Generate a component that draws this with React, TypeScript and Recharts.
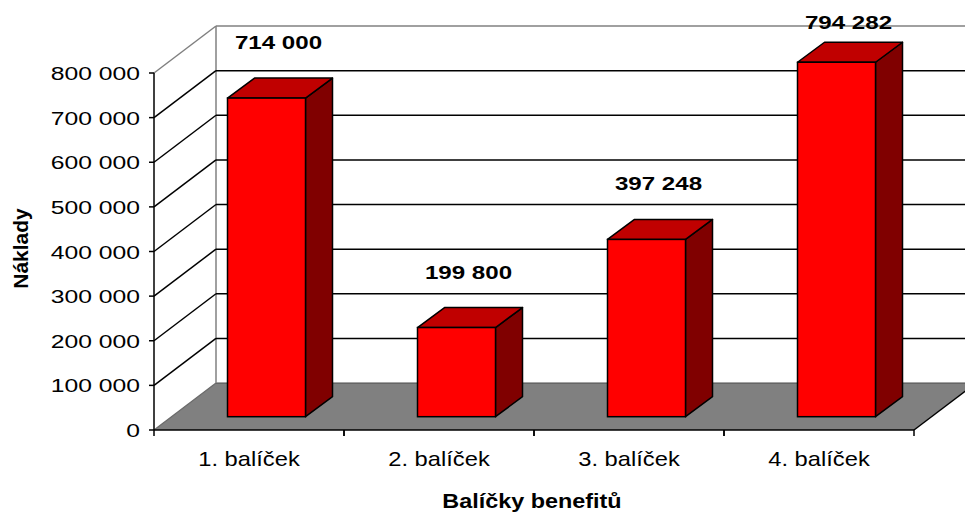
import { BarChart, Bar, XAxis, YAxis, CartesianGrid } from "recharts";

// kategorie a hodnoty
const CATEGORIES = ["1. balíček", "2. balíček", "3. balíček", "4. balíček"];
const COSTS = [714000, 199800, 397248, 794282];
const Y_TICKS = [0, 100000, 200000, 300000, 400000, 500000, 600000, 700000, 800000];

const data = CATEGORIES.map((name, i) => ({ name, value: COSTS[i] }));

// layout
const W = 965;
const H = 516;
const Y_AXIS_W = 154;
const X_AXIS_H = 86;
const MARGIN = { top: 73, right: 51, bottom: 0, left: 0 };
const PLOT_LEFT = Y_AXIS_W;
const PLOT_RIGHT = W - MARGIN.right;
const PLOT_TOP = MARGIN.top;
const PLOT_BOTTOM = H - X_AXIS_H;
const HALF_BAND = (PLOT_RIGHT - PLOT_LEFT) / CATEGORIES.length / 2;

// 3D hloubka
const DEPTH_X = 62;
const DEPTH_Y = 47;
const FRONT_X = 17.5;
const FRONT_Y = 13.3;
const BAR_DX = 27;
const BAR_DY = 20;

const FONT = '"Liberation Sans", Arial, sans-serif';

const fmt = (v: number) => String(v).replace(/\B(?=(\d{3})+(?!\d))/g, " ");

const pts = (p: number[][]) => p.map((q) => q.join(",")).join(" ");

// mřížka na zadní a boční stěně + podlaha
const WallLine = (props: any) => {
  const { x1, y1, x2, key } = props;
  const bx1 = x1 + DEPTH_X;
  const bx2 = x2 + DEPTH_X;
  const by = y1 - DEPTH_Y;
  if (Math.abs(y1 - PLOT_BOTTOM) < 1) {
    return (
      <g key={key}>
        <polygon
          points={pts([[x1, y1], [x2, y1], [bx2, by], [bx1, by]])}
          fill="#808080"
          stroke="none"
        />
        <line x1={bx1} y1={by} x2={bx2} y2={by} stroke="#4a4a4a" strokeWidth={1.2} />
        <line x1={x1} y1={y1} x2={bx1} y2={by} stroke="#6a6a6a" strokeWidth={1.2} />
        <line x1={x2} y1={y1} x2={bx2} y2={by} stroke="#000" strokeWidth={1.5} />
        <line
          x1={bx1}
          y1={by}
          x2={bx1}
          y2={PLOT_TOP - DEPTH_Y}
          stroke="#808080"
          strokeWidth={1.5}
        />
      </g>
    );
  }
  const isTop = Math.abs(y1 - PLOT_TOP) < 1;
  const color = isTop ? "#808080" : "#000";
  return (
    <g key={key}>
      <line x1={x1} y1={y1} x2={bx1} y2={by} stroke={color} strokeWidth={1.5} />
      <line x1={bx1} y1={by} x2={bx2} y2={by} stroke={color} strokeWidth={1.5} />
    </g>
  );
};

const Bar3D = (props: any) => {
  const { x, y, width, height, payload } = props;
  const fx = x + FRONT_X;
  const fy = y - FRONT_Y;
  const r = fx + width;
  const b = fy + height;
  const top = [[fx, fy], [fx + BAR_DX, fy - BAR_DY], [r + BAR_DX, fy - BAR_DY], [r, fy]];
  const side = [[r, fy], [r + BAR_DX, fy - BAR_DY], [r + BAR_DX, b - BAR_DY], [r, b]];
  const labelY = Math.max(fy - BAR_DY - 36, 22);
  const labelX = fx + width / 2 + 12;
  return (
    <g>
      <polygon points={pts(side)} fill="#800000" stroke="#000" strokeWidth={1.5} strokeLinejoin="round" />
      <polygon points={pts(top)} fill="#C00000" stroke="#000" strokeWidth={1.5} strokeLinejoin="round" />
      <rect x={fx} y={fy} width={width} height={height} fill="#FF0000" stroke="#000" strokeWidth={1.5} />
      <text
        transform={`translate(${labelX},${labelY + 7}) scale(1.27,1)`}
        textAnchor="middle"
        fontFamily={FONT}
        fontWeight="bold"
        fontSize={19}
        fill="#000"
      >
        {fmt(payload.value)}
      </text>
    </g>
  );
};

const YTick = ({ x, y, payload }: any) => (
  <text
    transform={`translate(${x},${y + 7}) scale(1.3,1)`}
    textAnchor="end"
    fontFamily={FONT}
    fontSize={19}
    fill="#000"
  >
    {fmt(payload.value)}
  </text>
);

const XTick = ({ x, payload }: any) => (
  <g>
    <line x1={x - HALF_BAND} y1={PLOT_BOTTOM} x2={x - HALF_BAND} y2={PLOT_BOTTOM + 6} stroke="#000" strokeWidth={1.5} />
    <line x1={x + HALF_BAND} y1={PLOT_BOTTOM} x2={x + HALF_BAND} y2={PLOT_BOTTOM + 6} stroke="#000" strokeWidth={1.5} />
    <text
      transform={`translate(${x},${PLOT_BOTTOM + 36}) scale(1.13,1)`}
      textAnchor="middle"
      fontFamily={FONT}
      fontSize={21}
      fill="#000"
    >
      {payload.value}
    </text>
  </g>
);

const XTitle = () => (
  <text
    transform={`translate(${(PLOT_LEFT + PLOT_RIGHT) / 2 - 2},${H - 8}) scale(1.17,1)`}
    textAnchor="middle"
    fontFamily={FONT}
    fontWeight="bold"
    fontSize={20}
    fill="#000"
  >
    Balíčky benefitů
  </text>
);

const YTitle = () => (
  <text
    transform={`translate(28,${(PLOT_TOP + PLOT_BOTTOM) / 2 - 3}) rotate(-90)`}
    textAnchor="middle"
    fontFamily={FONT}
    fontWeight="bold"
    fontSize={21}
    fill="#000"
  >
    Náklady
  </text>
);

export default function App() {
  return (
    <div style={{ position: "absolute", left: 0, top: 0, width: W, height: H, background: "#fff" }}>
      <BarChart width={W} height={H} data={data} margin={MARGIN} barSize={78}>
        <CartesianGrid vertical={false} horizontal={WallLine} />
        <XAxis
          dataKey="name"
          height={X_AXIS_H}
          axisLine={{ stroke: "#000", strokeWidth: 1.5 }}
          tickLine={false}
          tick={<XTick />}
          interval={0}
          label={<XTitle />}
        />
        <YAxis
          width={Y_AXIS_W}
          domain={[0, 800000]}
          ticks={Y_TICKS}
          interval={0}
          axisLine={{ stroke: "#000", strokeWidth: 1.5 }}
          tickLine={{ stroke: "#000", strokeWidth: 1.5 }}
          tickSize={5}
          tickMargin={9}
          tick={<YTick />}
          label={<YTitle />}
        />
        <Bar dataKey="value" shape={<Bar3D />} isAnimationActive={false} />
      </BarChart>
    </div>
  );
}
